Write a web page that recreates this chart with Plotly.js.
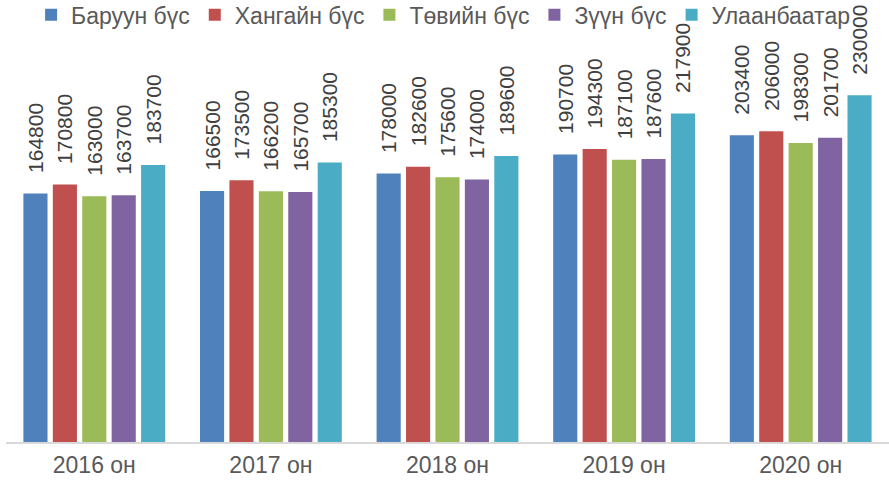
<!DOCTYPE html>
<html><head><meta charset="utf-8">
<script src="https://cdn.plot.ly/plotly-3.0.1.min.js"></script>
<style>html,body{margin:0;padding:0;background:#fff}#chart{width:889px;height:483px}</style>
</head><body><div id="chart"></div>
<script>
const years = ['2016 он', '2017 он', '2018 он', '2019 он', '2020 он'];
const seriesNames = ['Баруун бүс', 'Хангайн бүс', 'Төвийн бүс', 'Зүүн бүс', 'Улаанбаатар'];
const baruun = [164800, 166500, 178000, 190700, 203400];
const khangai = [170800, 173500, 182600, 194300, 206000];
const tuv = [163000, 166200, 175600, 187100, 198300];
const zuun = [163700, 165700, 174000, 187600, 201700];
const ulaanbaatar = [183700, 185300, 189600, 217900, 230000];
const colors = ['#4F81BD', '#C0504D', '#9BBB59', '#8064A2', '#4BACC6'];
const allValues = [baruun, khangai, tuv, zuun, ulaanbaatar];

const font = 'Liberation Sans, Arial, sans-serif';
const pad = '\u00a0\u00a0\u00a0';
const traces = allValues.map((vals, i) => ({
  type: 'bar',
  name: seriesNames[i],
  x: years,
  y: vals,
  marker: {color: colors[i]},
  text: vals.map(v => pad + v),
  textposition: 'outside',
  textangle: -90,
  constraintext: 'none',
  cliponaxis: false,
  textfont: {family: font, size: 21, color: '#404040'},
  hoverinfo: 'x+y+name'
}));

const layout = {
  width: 889, height: 483,
  margin: {l: 6, r: 0, t: 65, b: 41, autoexpand: false},
  paper_bgcolor: '#fff', plot_bgcolor: '#fff',
  barmode: 'group',
  bargap: 0.167,
  bargroupgap: 0.18,
  showlegend: true,
  legend: {orientation: 'h', x: 0.495, xanchor: 'center', y: 1.19, yref: 'paper', yanchor: 'top',
           bgcolor: 'rgba(0,0,0,0)',
           font: {family: font, size: 23, color: '#595959'}, itemwidth: 30, traceorder: 'normal'},
  xaxis: {showline: true, linecolor: '#D9D9D9', linewidth: 2, ticks: '', ticklabelstandoff: 1,
          tickfont: {family: font, size: 23, color: '#595959'}, fixedrange: true},
  yaxis: {range: [0, 250000], visible: false, showgrid: false, zeroline: false},
  font: {family: font}
};
Plotly.newPlot('chart', traces, layout, {displayModeBar: false, staticPlot: true});
</script></body></html>
